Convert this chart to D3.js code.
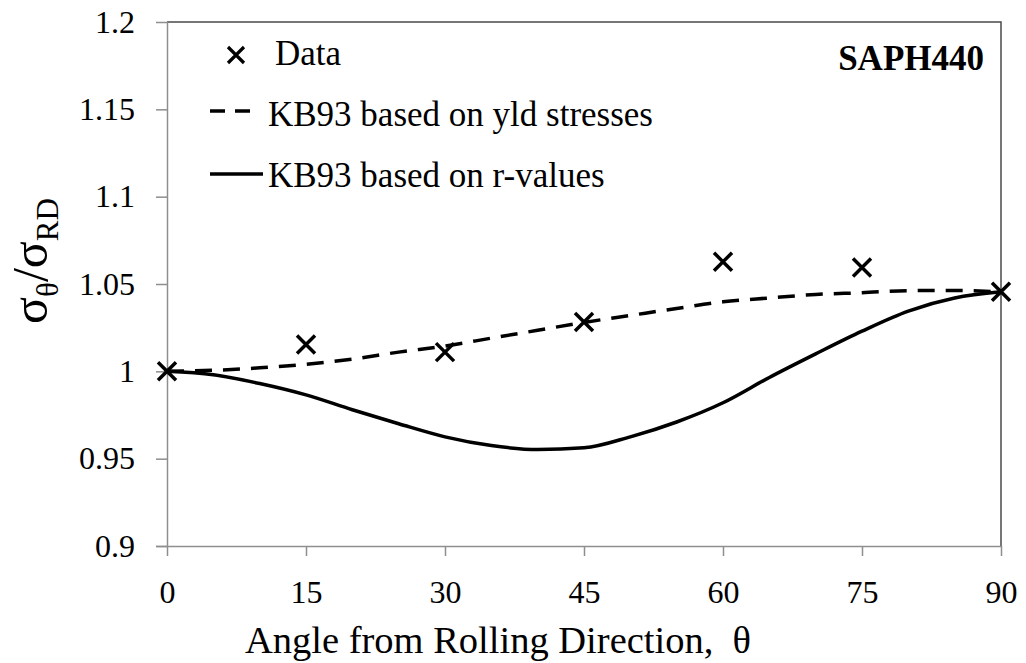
<!DOCTYPE html>
<html>
<head>
<meta charset="utf-8">
<script src="https://cdn.jsdelivr.net/npm/d3@7"></script>
<style>
  html, body { margin: 0; padding: 0; background: #fff; }
  svg { display: block; }
</style>
</head>
<body>
<svg id="chart" width="1026" height="663"></svg>
<script>
// Normalised yield stress vs. angle from rolling direction (SAPH440)
const xTicks = [0, 15, 30, 45, 60, 75, 90];
const yTicks = [0.9, 0.95, 1, 1.05, 1.1, 1.15, 1.2];
const yTickLabels = ["0.9", "0.95", "1", "1.05", "1.1", "1.15", "1.2"];

// Measured points
const dataAngles = [0, 15, 30, 45, 60, 75, 90];
const dataRatio  = [1.000, 1.0153, 1.011, 1.0283, 1.0627, 1.0594, 1.0455];

// KB93 prediction calibrated on yield stresses
const yldAngles = [0, 5, 10, 15, 20, 25, 30, 35, 40, 45, 50, 55, 60, 65, 70, 75, 80, 85, 90];
const yldRatio  = [1.000, 1.0006, 1.002, 1.004, 1.007, 1.011, 1.0145, 1.019, 1.0235, 1.028,
                   1.032, 1.036, 1.0398, 1.042, 1.044, 1.045, 1.0462, 1.0463, 1.0455];

// KB93 prediction calibrated on r-values
const rAngles = [0, 5, 10, 15, 20, 25, 30, 35, 40, 45, 50, 55, 60, 65, 70, 75, 80, 85, 90];
const rRatio  = [1.000, 0.998, 0.993, 0.9865, 0.978, 0.970, 0.9625, 0.9575, 0.9552, 0.9562,
                 0.9625, 0.971, 0.982, 0.9965, 1.010, 1.023, 1.0345, 1.042, 1.0455];

const legendLabels = ["Data", "KB93 based on yld stresses", "KB93 based on r-values"];
const materialLabel = "SAPH440";

const SERIF = '"Liberation Serif", serif';

const svg = d3.select("#chart");
const L = 167, R = 1001, T = 22, B = 546;

const x = d3.scaleLinear().domain([0, 90]).range([L, R]);
const y = d3.scaleLinear().domain([0.9, 1.2]).range([B, T]);

const axisGrey = "#8e8e8e";
const frameGrey = "#4a4a4a";

function label(sel, size, weight) {
  return sel.style("font-family", SERIF)
    .style("font-size", size + "px")
    .style("font-weight", weight || "normal")
    .attr("fill", "#000");
}

// Top and right frame
svg.append("path")
  .attr("d", `M${L},${T}H${R}V${B}`)
  .attr("fill", "none")
  .attr("stroke", frameGrey)
  .attr("stroke-width", 1.5);

// Y axis
const yAxis = svg.append("g")
  .attr("transform", `translate(${L},0)`)
  .call(d3.axisLeft(y).tickValues(yTicks)
    .tickFormat((d, i) => yTickLabels[i])
    .tickSize(11).tickPadding(21));
yAxis.attr("font-family", null);
yAxis.selectAll(".domain, .tick line").attr("stroke", axisGrey).attr("stroke-width", 1.5);
yAxis.select(".domain").attr("d", `M0.5,${T}V${B}`);
label(yAxis.selectAll(".tick text"), 32);

// X axis
const xAxis = svg.append("g")
  .attr("transform", `translate(0,${B})`)
  .call(d3.axisBottom(x).tickValues(xTicks).tickSize(10).tickPadding(24));
xAxis.attr("font-family", null);
xAxis.selectAll(".domain, .tick line").attr("stroke", axisGrey).attr("stroke-width", 1.5);
xAxis.select(".domain").attr("d", `M${L - 11},0.5H${R}`);
label(xAxis.selectAll(".tick text"), 32);

// Curves
const line = d3.line().curve(d3.curveMonotoneX);

svg.append("path")
  .attr("d", line(rAngles.map((a, i) => [x(a), y(rRatio[i])])))
  .attr("fill", "none").attr("stroke", "#000").attr("stroke-width", 3.5)
  .attr("stroke-linejoin", "round");

svg.append("path")
  .attr("d", line(yldAngles.map((a, i) => [x(a), y(yldRatio[i])])))
  .attr("fill", "none").attr("stroke", "#000").attr("stroke-width", 3.5)
  .attr("stroke-dasharray", "17,11");

// Cross markers
function cross(g, cx, cy, h, w) {
  g.append("path")
    .attr("d", `M${cx - h},${cy - h}L${cx + h},${cy + h}M${cx - h},${cy + h}L${cx + h},${cy - h}`)
    .attr("stroke", "#000").attr("stroke-width", w).attr("fill", "none");
}
const markers = svg.append("g");
dataAngles.forEach((a, i) => cross(markers, x(a), y(dataRatio[i]), 9, 3.5));

// Legend
const leg = svg.append("g");
cross(leg, 236, 55, 8, 3.2);
label(leg.append("text").attr("x", 275).attr("y", 65), 35).text(legendLabels[0]);
leg.append("line").attr("x1", 210).attr("x2", 250).attr("y1", 111).attr("y2", 111)
  .attr("stroke", "#000").attr("stroke-width", 3.5).attr("stroke-dasharray", "15,10");
label(leg.append("text").attr("x", 268).attr("y", 126), 35).text(legendLabels[1]);
leg.append("line").attr("x1", 210).attr("x2", 263).attr("y1", 174).attr("y2", 174)
  .attr("stroke", "#000").attr("stroke-width", 3.5);
label(leg.append("text").attr("x", 268).attr("y", 187), 35).text(legendLabels[2]);

// Material label
label(svg.append("text").attr("x", 984).attr("y", 70).attr("text-anchor", "end"), 35, "bold")
  .text(materialLabel);

// Axis titles
label(svg.append("text").attr("x", 245).attr("y", 653), 38.5)
  .text("Angle from Rolling Direction,\u00a0 θ");

const yt = label(svg.append("text")
  .attr("transform", "translate(47,261) rotate(-90)")
  .attr("text-anchor", "middle"), 50);
yt.append("tspan").text("σ");
yt.append("tspan").attr("dy", 11).style("font-size", "31px").text("θ");
yt.append("tspan").attr("dy", -11).text("/σ");
yt.append("tspan").attr("dy", 11).style("font-size", "31px").text("RD");
</script>
</body>
</html>
